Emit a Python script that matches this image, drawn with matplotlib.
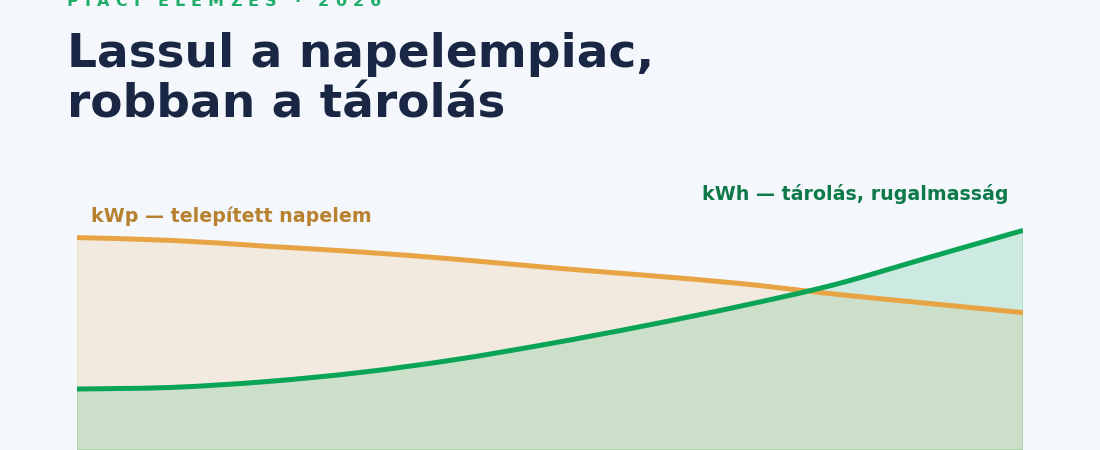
import matplotlib
matplotlib.use("Agg")
import matplotlib.pyplot as plt
from matplotlib.path import Path
from matplotlib.patches import PathPatch
import numpy as np

# evenly spaced sample points (arbitrary index units)
steps = np.arange(11)
kwp = [106.2, 104.8, 101.9, 99.0, 95.4, 91.2, 87.4, 83.3, 78.0, 73.3, 68.7]
kwh = [30.5, 31.3, 34.2, 38.8, 45.2, 53.2, 62.1, 71.8, 82.6, 96.2, 109.8]

kicker = "PIACI ELEMZÉS · 2026"
title_lines = ["Lassul a napelempiac,", "robban a tárolás"]
kwp_label = "kWp — telepített napelem"
kwh_label = "kWh — tárolás, rugalmasság"

bg = "#f4f7fb"
orange = "#e8a444"
green = "#0aa457"


def smooth_verts(x, y):
    # catmull-rom through the points, drawn as cubic bezier segments
    p = np.column_stack([x, y]).astype(float)
    p = np.vstack([p[0], p, p[-1]])
    verts = [p[1]]
    codes = [Path.MOVETO]
    for i in range(1, len(p) - 2):
        c1 = p[i] + (p[i + 1] - p[i - 1]) / 6
        c2 = p[i + 1] - (p[i + 2] - p[i]) / 6
        verts += [c1, c2, p[i + 1]]
        codes += [Path.CURVE4] * 3
    return verts, codes


def draw_series(ax, x, y, color, fill_color, alpha):
    verts, codes = smooth_verts(x, y)
    fv = verts + [(x[-1], 0), (x[0], 0), verts[0]]
    fc = codes + [Path.LINETO, Path.LINETO, Path.CLOSEPOLY]
    ax.add_patch(PathPatch(Path(fv, fc), facecolor=fill_color, alpha=alpha,
                           edgecolor=fill_color, lw=1))
    ax.add_patch(PathPatch(Path(verts, codes), facecolor="none", edgecolor=color,
                           lw=3.6, capstyle="butt", zorder=3))


def spaced_text(fig, x0, x1, y, s, **kw):
    # letter-spaced text stretched between x0 and x1 (pixels)
    r = fig.canvas.get_renderer()

    def w(t):
        tmp = fig.text(0, 0, t + "|", **kw)
        bar = fig.text(0, 0, "|", **kw)
        out = tmp.get_window_extent(r).width - bar.get_window_extent(r).width
        tmp.remove()
        bar.remove()
        return out

    track = (x1 - x0 - w(s)) / (len(s) - 1)
    for i, ch in enumerate(s):
        fig.text((x0 + w(s[:i]) + i * track) / 1100, y, ch, va="baseline", ha="left", **kw)


plt.rcParams['font.family'] = ['DejaVu Sans']
fig = plt.figure(figsize=(11, 4.5), dpi=100, facecolor=bg)

ax = fig.add_axes([77 / 1100, 0, 946 / 1100, 300 / 450])
ax.set_facecolor("none")
draw_series(ax, steps, kwp, orange, orange, 0.15)
draw_series(ax, steps, kwh, green, "#00a85a", 0.16)
ax.set_xlim(0, 10)
ax.set_ylim(0, 150)
ax.axis("off")

spaced_text(fig, 67, 381, 1 - 6 / 450, kicker, fontsize=11.5, fontweight="bold",
            color="#1fae6a")
for i, line in enumerate(title_lines):
    fig.text(67 / 1100, 1 - (67 + 50 * i) / 450, line, fontsize=33.8, fontweight="bold",
             color="#1a2744", va="baseline", ha="left")

fig.text(91 / 1100, 1 - 222 / 450, kwp_label, fontsize=13.7, fontweight="bold",
         color="#b7812f", va="baseline", ha="left")
fig.text(1008 / 1100, 1 - 200 / 450, kwh_label, fontsize=13.7, fontweight="bold",
         color="#0e7a4a", va="baseline", ha="right")

fig.savefig("out.png", dpi=100, facecolor=bg)
